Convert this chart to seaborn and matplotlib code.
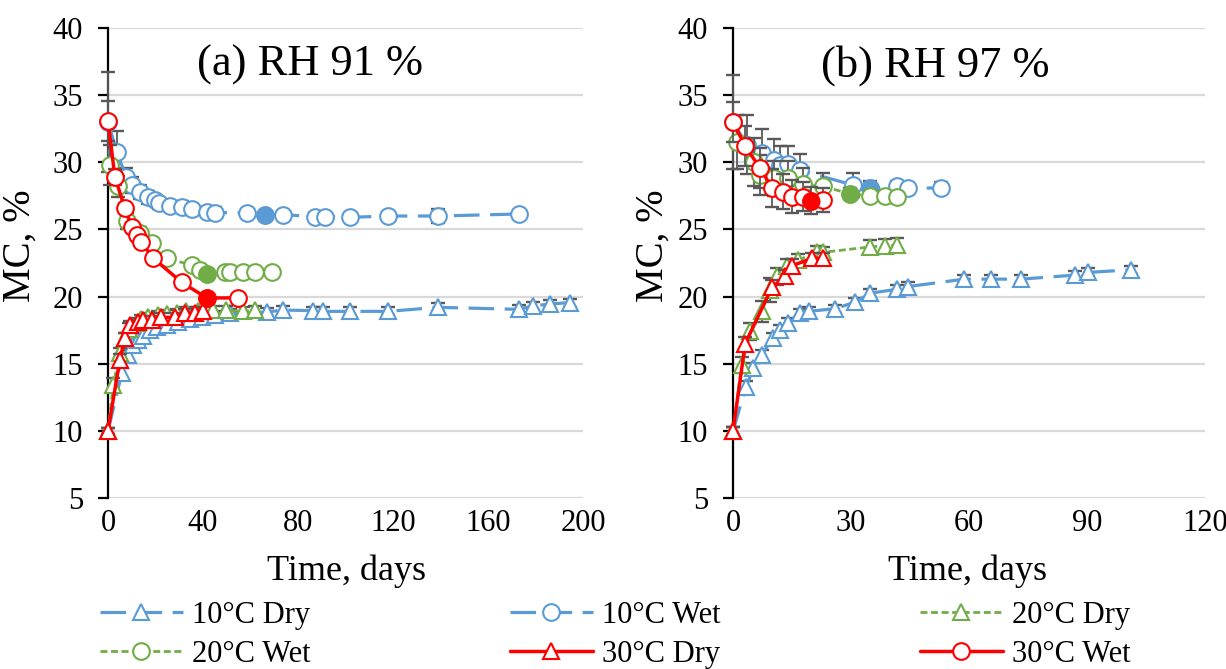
import matplotlib
matplotlib.use("Agg")
import matplotlib.pyplot as plt
from matplotlib.lines import Line2D
import seaborn as sns

sns.set_theme(style="white")
plt.rcParams["font.family"] = ["Liberation Serif", "DejaVu Serif"]
plt.rcParams["text.color"] = "black"

# ---- data ----
# (a) RH 91 %
a10d_day = [0, 5.8, 8.5, 10.7, 12.8, 14.8, 17.7, 20.5, 24.7, 29.6, 34.5, 39.4, 45.1, 51.4, 66.8, 73.8, 86.3, 90.6, 101.9, 118, 139, 172.9, 179, 186.2, 194.6]
a10d_mc = [10, 14.3, 15.65, 16.4, 16.8, 17.1, 17.5, 17.75, 17.9, 18.1, 18.3, 18.45, 18.6, 18.75, 18.85, 19.0, 18.95, 18.9, 18.9, 18.9, 19.2, 19.05, 19.3, 19.45, 19.55]
a10d_err = [0.2, 0.4, 0.4, 0.4, 0.4, 0.4, 0.4, 0.4, 0.4, 0.4, 0.3, 0.3, 0.3, 0.3, 0.3, 0.3, 0.3, 0.3, 0.3, 0.3, 0.3, 0.3, 0.3, 0.3, 0.3]

a10w_day = [0, 3.7, 7.6, 9.9, 13.5, 17, 19.8, 21.3, 26.1, 31.1, 35.2, 41.6, 45.1, 58.4, 66, 73.8, 87.2, 91.4, 101.9, 118, 139, 172.9]
a10w_mc = [33, 30.8, 28.9, 28.3, 27.8, 27.4, 27.2, 26.95, 26.75, 26.7, 26.5, 26.3, 26.25, 26.25, 26.1, 26.1, 25.95, 25.95, 25.9, 26.0, 26.0, 26.15]
a10w_err = [3.7, 1.5, 0.7, 0.6, 0.5, 0.5, 0.4, 0.4, 0.4, 0.4, 0.4, 0.4, 0.4, 0.3, 0.3, 0.3, 0.3, 0.3, 0.3, 0.3, 0.5, 0.3]

a20d_day = [0, 2.2, 5, 7, 9, 12, 14, 17, 21, 25, 29, 33, 38, 44.4, 49.7, 56.8, 61.9]
a20d_mc = [10, 13.4, 15.8, 16.9, 17.6, 18.0, 18.3, 18.5, 18.6, 18.7, 18.8, 18.9, 18.9, 19.0, 19.0, 18.9, 19.0]
a20d_err = [0.2, 0.5, 0.4, 0.4, 0.4, 0.3, 0.3, 0.3, 0.3, 0.3, 0.3, 0.3, 0.3, 0.3, 0.3, 0.3, 0.3]

a20w_day = [1, 4.4, 7.8, 13.5, 18.4, 24.7, 35.2, 38.8, 41.6, 49.2, 51.4, 56.8, 61.9, 68.9]
a20w_mc = [29.8, 28.2, 25.6, 24.7, 24.0, 22.85, 22.35, 22.0, 21.7, 21.8, 21.85, 21.85, 21.85, 21.85]
a20w_err = [1.5, 0.8, 0.6, 0.5, 0.4, 0.4, 0.3, 0.3, 0.3, 0.3, 0.3, 0.3, 0.3, 0.3]

a30d_day = [0, 5, 7.1, 9.2, 12.8, 14.8, 18.4, 22.5, 28.2, 32.4, 36.6, 40.1]
a30d_mc = [10, 15.3, 16.9, 17.9, 18.1, 18.25, 18.25, 18.45, 18.45, 18.75, 18.8, 18.9]
a30d_err = [0.2, 0.4, 0.4, 0.3, 0.3, 0.3, 0.3, 0.3, 0.3, 0.3, 0.3, 0.3]

a30w_day = [0, 2.9, 7.1, 9.9, 12.1, 14.1, 19.1, 31.1, 41.6, 54.8]
a30w_mc = [33.1, 28.9, 26.6, 25.2, 24.6, 24.05, 22.85, 21.05, 19.9, 19.9]
a30w_err = [1.5, 0.6, 0.4, 0.3, 0.3, 0.3, 0.3, 0.3, 0.3, 0.3]

# (b) RH 97 %
b10d_day = [0, 3.3, 5.2, 7.3, 10.1, 12, 14.1, 17.1, 19.2, 26, 31.1, 34.9, 41.7, 44.6, 58.8, 65.6, 73.3, 86.9, 90.3, 101.3]
b10d_mc = [10, 13.3, 14.65, 15.65, 16.9, 17.5, 18.0, 18.75, 18.9, 19.1, 19.6, 20.25, 20.55, 20.75, 21.3, 21.3, 21.3, 21.6, 21.8, 22.0]
b10d_err = [0.3, 0.4, 0.4, 0.4, 0.4, 0.4, 0.4, 0.3, 0.3, 0.3, 0.3, 0.3, 0.3, 0.3, 0.3, 0.3, 0.3, 0.3, 0.3, 0.3]

b10w_day = [0, 3.5, 7.3, 10.3, 12, 14.1, 17.1, 30.6, 34.9, 41.7, 44.6, 52.8]
b10w_mc = [33, 31.3, 30.7, 30.2, 29.8, 29.9, 29.4, 28.3, 28.1, 28.2, 28.05, 28.1]
b10w_err = [3.5, 2.2, 1.8, 1.5, 1.4, 1.3, 1.2, 0.9, 0.5, 0.4, 0.4, 0.4]

b20d_day = [0, 2.2, 4.4, 7.3, 9.4, 11.1, 13.7, 16.6, 21.3, 23, 34.9, 38.7, 41.7]
b20d_mc = [10, 14.9, 17.4, 18.9, 20.5, 21.5, 22.3, 22.7, 23.35, 23.3, 23.7, 23.8, 23.85]
b20d_err = [0.3, 0.6, 0.6, 0.8, 0.9, 0.6, 0.5, 0.5, 0.4, 0.4, 0.5, 0.5, 0.5]

b20w_day = [1, 5.3, 6.9, 10.3, 14.1, 17.9, 23, 29.8, 34.9, 38.7, 41.7]
b20w_mc = [31.5, 30.0, 29.05, 28.8, 28.8, 28.4, 28.2, 27.65, 27.5, 27.5, 27.4]
b20w_err = [2.0, 1.8, 1.5, 1.3, 1.3, 1.2, 1.0, 0.4, 0.4, 0.4, 0.4]

b30d_day = [0, 3.1, 9.9, 13.3, 15, 20.1, 23]
b30d_mc = [10, 16.5, 20.7, 21.5, 22.3, 22.85, 22.85]
b30d_err = [0.3, 0.5, 0.5, 0.5, 0.5, 0.4, 0.4]

b30w_day = [0, 3.1, 6.9, 9.9, 12.8, 14.9, 17.9, 19.8, 23]
b30w_mc = [33.0, 31.2, 29.55, 28.1, 27.8, 27.45, 27.45, 27.15, 27.2]
b30w_err = [1.5, 1.5, 1.5, 1.4, 1.3, 1.2, 1.1, 1.0, 0.9]

# which point of each wet series is drawn filled (equilibrium)
a_eq = {"10°C Wet": 14, "20°C Wet": 8, "30°C Wet": 8}
b_eq = {"10°C Wet": 8, "20°C Wet": 7, "30°C Wet": 7}

labels = ["10°C Dry", "10°C Wet", "20°C Dry", "20°C Wet", "30°C Dry", "30°C Wet"]

BLUE = "#5B9BD5"
GREEN = "#70AD47"
RED = "#FF0000"
GREY = "#595959"

styles = {
    "10°C Dry": dict(color=BLUE, marker="^", linestyle=(0, (8, 3.3)), linewidth=2.3),
    "10°C Wet": dict(color=BLUE, marker="o", linestyle=(0, (8, 3.3)), linewidth=2.3),
    "20°C Dry": dict(color=GREEN, marker="^", linestyle=(0, (2.5, 1.3)), linewidth=2.0),
    "20°C Wet": dict(color=GREEN, marker="o", linestyle=(0, (2.5, 1.3)), linewidth=2.0),
    "30°C Dry": dict(color=RED, marker="^", linestyle="-", linewidth=2.5),
    "30°C Wet": dict(color=RED, marker="o", linestyle="-", linewidth=2.5),
}

panel_a = [(a10d_day, a10d_mc, a10d_err), (a10w_day, a10w_mc, a10w_err),
           (a20d_day, a20d_mc, a20d_err), (a20w_day, a20w_mc, a20w_err),
           (a30d_day, a30d_mc, a30d_err), (a30w_day, a30w_mc, a30w_err)]
panel_b = [(b10d_day, b10d_mc, b10d_err), (b10w_day, b10w_mc, b10w_err),
           (b20d_day, b20d_mc, b20d_err), (b20w_day, b20w_mc, b20w_err),
           (b30d_day, b30d_mc, b30d_err), (b30w_day, b30w_mc, b30w_err)]

MS = 12
MEW = 1.5


def draw_panel(ax, series, eq, title, xmax, xstep, title_x):
    for i, (lab, (day, mc, err)) in enumerate(zip(labels, series)):
        st = styles[lab]
        c = st["color"]
        # grey error bars under each series
        ax.errorbar(day, mc, yerr=err, fmt="none", ecolor=GREY, elinewidth=1.3,
                    capsize=4.8, capthick=1.7, zorder=2 + i * 2, clip_on=False)
        sns.lineplot(x=day, y=mc, ax=ax, estimator=None, sort=False,
                     color=c, linestyle=st["linestyle"], linewidth=st["linewidth"],
                     marker=st["marker"], markersize=MS, markerfacecolor="white",
                     markeredgecolor=c, markeredgewidth=MEW, zorder=3 + i * 2,
                     clip_on=False)
        if lab in eq:
            k = eq[lab]
            ax.plot([day[k]], [mc[k]], marker="o", linestyle="none", markersize=MS,
                    color=c, markeredgecolor=c, zorder=3 + i * 2, clip_on=False)

    ax.set_xlim(0, xmax)
    ax.set_ylim(5, 40)
    ax.set_xticks(range(0, xmax + 1, xstep))
    ax.set_yticks(range(5, 41, 5))
    ax.yaxis.grid(True, color="#D9D9D9", linewidth=1.6)
    ax.xaxis.grid(False)
    ax.set_axisbelow(True)
    for s in ["top", "right", "bottom"]:
        ax.spines[s].set_visible(False)
    ax.spines["left"].set_color("black")
    ax.spines["left"].set_linewidth(1.6)
    ax.tick_params(axis="y", left=True, length=7, width=1.6, color="black",
                   pad=11, labelsize=22, labelcolor="black")
    ax.tick_params(axis="x", bottom=False, length=0, pad=8, labelsize=22,
                   labelcolor="black")
    ax.set_xlabel("Time, days", fontsize=26, color="black")
    ax.set_ylabel("MC, %", fontsize=28, color="black")
    ax.text(title_x, 0.921, title, transform=ax.transAxes, ha="center",
            va="center", fontsize=32, color="black")


fig = plt.figure(figsize=(12.26, 6.69), dpi=100)
ax1 = fig.add_axes([0.0881, 0.2556, 0.3874, 0.7025])
ax2 = fig.add_axes([0.5979, 0.2556, 0.385, 0.7025])

draw_panel(ax1, panel_a, a_eq, "(a) RH 91 %", 200, 40, 0.425)
draw_panel(ax2, panel_b, b_eq, "(b) RH 97 %", 120, 30, 0.428)

ax1.xaxis.set_label_coords(0.503, -0.12)
ax2.xaxis.set_label_coords(0.496, -0.12)
ax1.yaxis.set_label_coords(-0.147, 0.536)
ax2.yaxis.set_label_coords(-0.13, 0.536)

# legend: three columns of two rows, placed like the Excel legend
handles = {}
for lab in labels:
    st = styles[lab]
    handles[lab] = Line2D([], [], color=st["color"], linestyle=st["linestyle"],
                          linewidth=st["linewidth"], marker=st["marker"],
                          markersize=MS, markerfacecolor="white",
                          markeredgecolor=st["color"], markeredgewidth=MEW)

columns = [(["10°C Dry", "20°C Wet"], 100), (["10°C Wet", "30°C Dry"], 510),
           (["20°C Dry", "30°C Wet"], 920)]
for labs, xpx in columns:
    fig.legend([handles[l] for l in labs], labs, loc="upper left",
               bbox_to_anchor=(xpx / 1226, 1 - 601 / 669), frameon=False,
               borderpad=0, borderaxespad=0, handlelength=2.7,
               handletextpad=0.3, labelspacing=0.33, fontsize=22,
               labelcolor="black")

fig.savefig("out.png", dpi=100)
